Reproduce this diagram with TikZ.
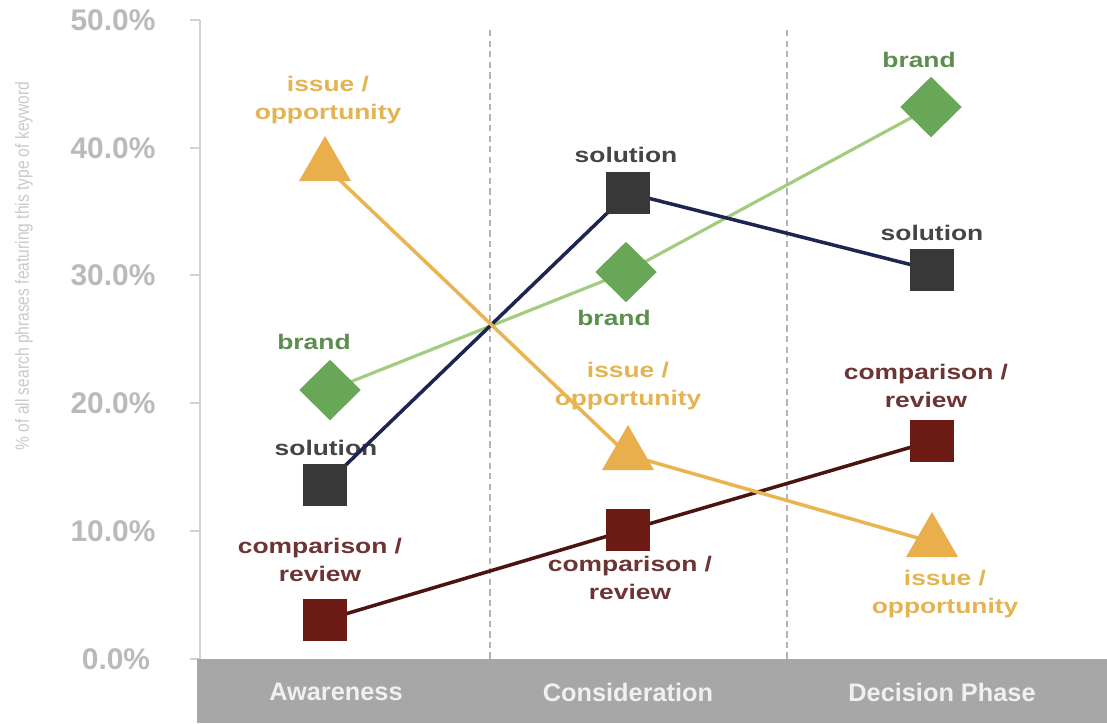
\documentclass[tikz,border=0pt]{standalone}
\usepackage{fontspec}
\setmainfont{Liberation Sans}
\newfontfamily\lab[FakeStretch=1.25]{Liberation Sans}
\newfontfamily\narrowfont[FakeStretch=0.82]{Liberation Sans}
\usetikzlibrary{backgrounds,shapes.geometric}
\definecolor{orng}{HTML}{E8AF4C}
\definecolor{orngline}{HTML}{E9B553}
\definecolor{orngtxt}{HTML}{E4B452}
\definecolor{grn}{HTML}{68A658}
\definecolor{grnline}{HTML}{A3CD7E}
\definecolor{grntxt}{HTML}{5C8E4D}
\definecolor{sol}{HTML}{383838}
\definecolor{solline}{HTML}{1C2651}
\definecolor{soltxt}{HTML}{454545}
\definecolor{cmp}{HTML}{6C1B14}
\definecolor{cmpline}{HTML}{4A1510}
\definecolor{cmptxt}{HTML}{6E3333}
\definecolor{axtxt}{HTML}{BABABA}
\definecolor{axtitle}{HTML}{CACACA}
\definecolor{axline}{HTML}{D2D2D2}
\definecolor{barc}{HTML}{A7A7A7}
\definecolor{bartxt}{HTML}{F0F0F0}
\definecolor{gridc}{HTML}{B4B4B4}
\begin{document}
\begin{tikzpicture}[x=0.01cm,y=-0.01cm,
  sq/.style={rectangle, inner sep=0, minimum width=0.44cm, minimum height=0.42cm},
  dia/.style={diamond, inner sep=0, minimum width=0.62cm, minimum height=0.61cm, fill=grn},
  tri/.style={regular polygon, regular polygon sides=3, inner sep=0, minimum size=0.6cm, fill=orng},
  lbl/.style={font=\lab\bfseries\fontsize{6}{8}\selectfont, align=center, inner sep=0},
  ticklbl/.style={font=\bfseries\fontsize{8.5}{10}\selectfont, text=axtxt, inner sep=0},
  catlbl/.style={font=\bfseries\fontsize{7.2}{9}\selectfont, text=bartxt, inner sep=0},
  dataline/.style={line width=1pt, line join=round},
  phase/.style={gridc, line width=0.6pt, dash pattern=on 1.8pt off 1.2pt},
]
\useasboundingbox (0,0) rectangle (1107,723);

% markers
\node[tri] (iA) at (325,166) {};
\node[tri] (iC) at (628,455) {};
\node[tri] (iD) at (932,542) {};
\node[sq, fill=sol] (sA) at (325,485) {};
\node[sq, fill=sol] (sC) at (628,193) {};
\node[sq, fill=sol] (sD) at (932,270) {};
\node[dia] (bA) at (330,390) {};
\node[dia] (bC) at (626,272) {};
\node[dia] (bD) at (931,107) {};
\node[sq, fill=cmp] (cA) at (325,620) {};
\node[sq, fill=cmp] (cC) at (628,530) {};
\node[sq, fill=cmp] (cD) at (932,441) {};

\begin{scope}[on background layer]
  \fill[white] (0,0) rectangle (1107,723);
  % axis
  \draw[axline, line width=0.6pt] (200,20) -- (200,659);
  \foreach \yy in {20,148,275,403,531,659} \draw[axline, line width=0.6pt] (190,\yy) -- (200,\yy);
  \node[ticklbl] (t50) at (113,20) {50.0\%};
  \node[ticklbl] (t40) at (113,148) {40.0\%};
  \node[ticklbl] (t30) at (113,275) {30.0\%};
  \node[ticklbl] (t20) at (113,403) {20.0\%};
  \node[ticklbl] (t10) at (113,531) {10.0\%};
  \node[ticklbl] (t0) at (116,659) {0.0\%};
  \node[rotate=90, font=\narrowfont\fontsize{5.4}{6}\selectfont, text=axtitle, inner sep=0] (ytitle) at (24,266) {\% of all search phrases featuring this type of keyword};
  % phase separators
  \draw[phase] (490,30) -- (490,659);
  \draw[phase] (787,30) -- (787,659);
  % labels
  \node[lbl, text=orngtxt] (liA) at (328,100) {issue /\\opportunity};
  \node[lbl, text=grntxt] (lbA) at (314,342) {brand};
  \node[lbl, text=soltxt] (lsA) at (326,448) {solution};
  \node[lbl, text=cmptxt] (lcA) at (320,560) {comparison /\\review};
  \node[lbl, text=soltxt] (lsC) at (626,155) {solution};
  \node[lbl, text=grntxt] (lbC) at (614,318) {brand};
  \node[lbl, text=orngtxt] (liC) at (628,386) {issue /\\opportunity};
  \node[lbl, text=cmptxt] (lcC) at (630,578) {comparison /\\review};
  \node[lbl, text=grntxt] (lbD) at (919,60) {brand};
  \node[lbl, text=soltxt] (lsD) at (932,233) {solution};
  \node[lbl, text=cmptxt] (lcD) at (926,386) {comparison /\\review};
  \node[lbl, text=orngtxt] (liD) at (945,594) {issue /\\opportunity};
  % data lines
  \draw[dataline, grnline, line width=0.9pt] (bA.center) -- (bC.center) -- (bD.center);
  \draw[dataline, solline] (sA.center) -- (sC.center) -- (sD.center);
  \draw[dataline, cmpline] (cA.center) -- (cC.center) -- (cD.center);
  \draw[dataline, orngline] (iA.center) -- (iC.center) -- (iD.center);
\end{scope}

% category bar
\fill[barc] (197,659) rectangle (1107,723);
\node[catlbl] (awareness) at (336,692) {Awareness};
\node[catlbl] (consideration) at (628,692) {Consideration};
\node[catlbl] (decision) at (942,692) {Decision Phase};
\end{tikzpicture}
\end{document}
